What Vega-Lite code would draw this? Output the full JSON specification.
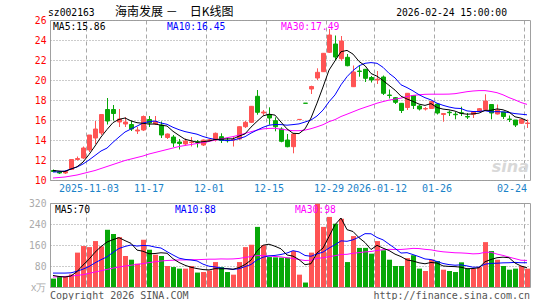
{
"$schema": "https://vega.github.io/schema/vega-lite/v6.json",
"padding": {"left": 28, "top": 5, "right": 10, "bottom": 0},
"background": "white",
"config": {
  "view": {"stroke": "#a0a0a0", "strokeWidth": 1},
  "axis": {"domain": false, "ticks": false, "labelFont": "DejaVu Sans Mono", "labelFontSize": 9.7, "gridWidth": 1, "labelOverlap": false}
},
"datasets": {"k": [
{"d":"2025-10-24","o":10.95,"h":11.05,"l":10.8,"c":10.85,"v":32,"m5":10.95,"m10":10.8,"m30":10.2,"vm5":44,"vm10":53,"vm30":38},
{"d":"2025-10-27","o":10.8,"h":10.85,"l":10.6,"c":10.7,"v":41,"m5":10.9,"m10":10.82,"m30":10.25,"vm5":40,"vm10":53,"vm30":39},
{"d":"2025-10-28","o":10.7,"h":10.95,"l":10.6,"c":10.85,"v":41,"m5":10.85,"m10":10.9,"m30":10.3,"vm5":38,"vm10":53,"vm30":40},
{"d":"2025-10-29","o":11.05,"h":12.1,"l":11.0,"c":12.05,"v":48,"m5":11.1,"m10":11.1,"m30":10.4,"vm5":42,"vm10":54,"vm30":42},
{"d":"2025-10-30","o":12.05,"h":12.35,"l":11.95,"c":12.15,"v":131,"m5":11.32,"m10":11.3,"m30":10.5,"vm5":58.6,"vm10":60,"vm30":44},
{"d":"2025-10-31","o":12.2,"h":13.35,"l":12.1,"c":13.2,"v":156,"m5":11.79,"m10":11.6,"m30":10.65,"vm5":83.4,"vm10":68,"vm30":47},
{"d":"2025-11-03","o":13.0,"h":14.5,"l":12.8,"c":14.5,"v":152,"m5":12.55,"m10":12.0,"m30":10.8,"vm5":105.6,"vm10":78,"vm30":52},
{"d":"2025-11-04","o":14.2,"h":15.9,"l":13.6,"c":15.1,"v":175,"m5":13.4,"m10":12.45,"m30":10.95,"vm5":132.4,"vm10":92,"vm30":57},
{"d":"2025-11-05","o":14.7,"h":16.55,"l":14.5,"c":16.55,"v":155,"m5":14.3,"m10":12.9,"m30":11.15,"vm5":153.8,"vm10":104,"vm30":62},
{"d":"2025-11-06","o":17.05,"h":18.2,"l":15.55,"c":15.9,"v":218,"m5":15.05,"m10":13.19,"m30":11.35,"vm5":171.2,"vm10":114.9,"vm30":67},
{"d":"2025-11-07","o":17.05,"h":17.5,"l":15.95,"c":16.65,"v":202,"m5":15.74,"m10":13.77,"m30":11.55,"vm5":180.4,"vm10":131.9,"vm30":72},
{"d":"2025-11-10","o":15.8,"h":17.1,"l":15.3,"c":16.1,"v":190,"m5":16.06,"m10":14.3,"m30":11.75,"vm5":188,"vm10":146.8,"vm30":76},
{"d":"2025-11-11","o":15.6,"h":16.3,"l":15.3,"c":15.8,"v":118,"m5":16.2,"m10":14.8,"m30":11.95,"vm5":176.6,"vm10":154.5,"vm30":80},
{"d":"2025-11-12","o":15.55,"h":15.95,"l":14.9,"c":15.1,"v":104,"m5":15.91,"m10":15.1,"m30":12.1,"vm5":166.4,"vm10":160.1,"vm30":83},
{"d":"2025-11-13","o":14.9,"h":15.3,"l":14.6,"c":15.0,"v":89,"m5":15.73,"m10":15.39,"m30":12.25,"vm5":140.6,"vm10":155.9,"vm30":86},
{"d":"2025-11-14","o":15.0,"h":16.45,"l":14.9,"c":16.35,"v":180,"m5":15.67,"m10":15.7,"m30":12.4,"vm5":136.2,"vm10":158.3,"vm30":89},
{"d":"2025-11-17","o":16.05,"h":16.4,"l":15.3,"c":15.7,"v":142,"m5":15.59,"m10":15.83,"m30":12.6,"vm5":126.6,"vm10":157.3,"vm30":93},
{"d":"2025-11-18","o":15.6,"h":16.4,"l":15.5,"c":15.85,"v":123,"m5":15.6,"m10":15.9,"m30":12.75,"vm5":127.6,"vm10":152.1,"vm30":96},
{"d":"2025-11-19","o":15.5,"h":15.85,"l":14.2,"c":14.5,"v":118,"m5":15.48,"m10":15.7,"m30":12.9,"vm5":130.4,"vm10":148.4,"vm30":99},
{"d":"2025-11-20","o":14.25,"h":14.65,"l":14.1,"c":14.6,"v":80,"m5":15.4,"m10":15.57,"m30":13.05,"vm5":128.6,"vm10":134.6,"vm30":101},
{"d":"2025-11-21","o":14.3,"h":14.5,"l":13.3,"c":13.7,"v":76,"m5":14.87,"m10":15.27,"m30":13.2,"vm5":107.8,"vm10":122,"vm30":102},
{"d":"2025-11-24","o":13.8,"h":14.1,"l":13.05,"c":13.65,"v":70,"m5":14.46,"m10":15.03,"m30":13.35,"vm5":93.4,"vm10":110,"vm30":103},
{"d":"2025-11-25","o":13.6,"h":14.15,"l":13.45,"c":13.9,"v":70,"m5":14.07,"m10":14.84,"m30":13.45,"vm5":82.8,"vm10":105.2,"vm30":103},
{"d":"2025-11-26","o":13.75,"h":14.3,"l":13.35,"c":13.8,"v":80,"m5":13.93,"m10":14.71,"m30":13.55,"vm5":75.2,"vm10":102.8,"vm30":104},
{"d":"2025-11-27","o":13.82,"h":14.0,"l":13.25,"c":13.78,"v":55,"m5":13.77,"m10":14.58,"m30":13.65,"vm5":70.2,"vm10":99.4,"vm30":104},
{"d":"2025-11-28","o":13.5,"h":14.05,"l":13.4,"c":14.0,"v":57,"m5":13.83,"m10":14.35,"m30":13.75,"vm5":66.4,"vm10":87.1,"vm30":105},
{"d":"2025-12-01","o":13.95,"h":14.1,"l":13.85,"c":14.02,"v":63,"m5":13.9,"m10":14.18,"m30":13.85,"vm5":65,"vm10":79.2,"vm30":106},
{"d":"2025-12-02","o":14.0,"h":14.75,"l":13.85,"c":14.67,"v":95,"m5":14.05,"m10":14.06,"m30":14.0,"vm5":70,"vm10":76.4,"vm30":106},
{"d":"2025-12-03","o":14.33,"h":14.67,"l":13.7,"c":13.95,"v":76,"m5":14.08,"m10":14.0,"m30":14.1,"vm5":69.2,"vm10":72.2,"vm30":107},
{"d":"2025-12-04","o":13.97,"h":14.2,"l":13.75,"c":13.93,"v":57,"m5":14.11,"m10":13.94,"m30":14.23,"vm5":69.6,"vm10":69.9,"vm30":106.5},
{"d":"2025-12-05","o":14.0,"h":14.35,"l":13.35,"c":14.05,"v":47,"m5":14.12,"m10":13.98,"m30":14.34,"vm5":67.6,"vm10":67,"vm30":107},
{"d":"2025-12-08","o":14.1,"h":15.35,"l":14.0,"c":15.33,"v":95,"m5":14.39,"m10":14.14,"m30":14.49,"vm5":74,"vm10":69.5,"vm30":108.8},
{"d":"2025-12-09","o":15.33,"h":15.9,"l":15.2,"c":15.77,"v":152,"m5":14.61,"m10":14.33,"m30":14.66,"vm5":85.4,"vm10":77.7,"vm30":112.5},
{"d":"2025-12-10","o":15.77,"h":17.4,"l":15.7,"c":17.37,"v":161,"m5":15.29,"m10":14.69,"m30":14.83,"vm5":102.4,"vm10":85.8,"vm30":116.2},
{"d":"2025-12-11","o":18.37,"h":19.0,"l":16.53,"c":16.77,"v":229,"m5":15.86,"m10":14.99,"m30":14.99,"vm5":136.8,"vm10":103.2,"vm30":119.5},
{"d":"2025-12-12","o":16.7,"h":17.0,"l":16.5,"c":16.8,"v":159,"m5":16.41,"m10":15.27,"m30":15.11,"vm5":159.2,"vm10":113.4,"vm30":119.6},
{"d":"2025-12-15","o":16.53,"h":17.27,"l":15.53,"c":16.2,"v":114,"m5":16.58,"m10":15.48,"m30":15.16,"vm5":163,"vm10":118.5,"vm30":118.3},
{"d":"2025-12-16","o":15.93,"h":16.27,"l":14.87,"c":15.33,"v":113,"m5":16.49,"m10":15.55,"m30":15.17,"vm5":155.2,"vm10":120.3,"vm30":116.3},
{"d":"2025-12-17","o":15.1,"h":15.27,"l":13.77,"c":13.87,"v":112,"m5":15.79,"m10":15.54,"m30":15.08,"vm5":145.4,"vm10":123.9,"vm30":114.8},
{"d":"2025-12-18","o":14.0,"h":14.6,"l":13.27,"c":13.33,"v":112,"m5":15.11,"m10":15.48,"m30":15.0,"vm5":122,"vm10":129.4,"vm30":111.3},
{"d":"2025-12-19","o":13.33,"h":14.67,"l":12.67,"c":14.6,"v":137,"m5":14.67,"m10":15.54,"m30":14.93,"vm5":117.6,"vm10":138.4,"vm30":109.1},
{"d":"2025-12-22","o":16.05,"h":16.06,"l":16.05,"c":16.06,"v":47,"m5":14.64,"m10":15.61,"m30":14.93,"vm5":104.2,"vm10":133.6,"vm30":104.4},
{"d":"2025-12-23","o":17.68,"h":17.68,"l":17.67,"c":17.67,"v":17,"m5":15.11,"m10":15.8,"m30":14.99,"vm5":85,"vm10":120.1,"vm30":101},
{"d":"2025-12-24","o":19.1,"h":19.43,"l":18.6,"c":19.35,"v":131,"m5":16.2,"m10":16.0,"m30":15.13,"vm5":88.8,"vm10":117.1,"vm30":101.9},
{"d":"2025-12-25","o":20.2,"h":21.17,"l":20.0,"c":20.77,"v":317,"m5":17.69,"m10":16.4,"m30":15.32,"vm5":129.8,"vm10":125.9,"vm30":109.5},
{"d":"2025-12-26","o":20.83,"h":22.7,"l":20.8,"c":22.67,"v":229,"m5":19.3,"m10":16.99,"m30":15.53,"vm5":148.2,"vm10":132.9,"vm30":111.1},
{"d":"2025-12-29","o":22.77,"h":25.1,"l":22.7,"c":24.5,"v":267,"m5":20.99,"m10":17.82,"m30":15.83,"vm5":192.2,"vm10":148.2,"vm30":115.3},
{"d":"2025-12-30","o":23.6,"h":24.45,"l":21.95,"c":22.3,"v":241,"m5":21.92,"m10":18.51,"m30":16.04,"vm5":237,"vm10":161,"vm30":119.2},
{"d":"2025-12-31","o":22.13,"h":24.4,"l":21.9,"c":23.9,"v":260,"m5":22.83,"m10":19.52,"m30":16.35,"vm5":262.8,"vm10":175.8,"vm30":124},
{"d":"2026-01-05","o":22.27,"h":22.6,"l":21.37,"c":21.43,"v":95,"m5":22.96,"m10":20.33,"m30":16.58,"vm5":218.4,"vm10":174.1,"vm30":124.5},
{"d":"2026-01-06","o":19.33,"h":21.45,"l":19.3,"c":20.8,"v":194,"m5":22.59,"m10":20.95,"m30":16.82,"vm5":211.4,"vm10":179.8,"vm30":128.4},
{"d":"2026-01-07","o":20.9,"h":21.5,"l":20.33,"c":20.85,"v":149,"m5":21.86,"m10":21.42,"m30":17.06,"vm5":187.8,"vm10":190,"vm30":131},
{"d":"2026-01-08","o":21.07,"h":21.1,"l":19.8,"c":20.17,"v":149,"m5":21.43,"m10":21.67,"m30":17.27,"vm5":169.4,"vm10":203.2,"vm30":133.7},
{"d":"2026-01-09","o":20.25,"h":20.4,"l":19.75,"c":20.0,"v":127,"m5":20.65,"m10":21.74,"m30":17.47,"vm5":142.8,"vm10":202.8,"vm30":135.2},
{"d":"2026-01-12","o":20.0,"h":20.9,"l":19.6,"c":20.08,"v":175,"m5":20.38,"m10":21.67,"m30":17.68,"vm5":158.8,"vm10":188.6,"vm30":139.2},
{"d":"2026-01-13","o":20.3,"h":20.45,"l":18.5,"c":18.67,"v":140,"m5":19.95,"m10":21.27,"m30":17.84,"vm5":148,"vm10":179.7,"vm30":142},
{"d":"2026-01-14","o":18.5,"h":19.05,"l":18.15,"c":18.45,"v":104,"m5":19.47,"m10":20.67,"m30":17.99,"vm5":139,"vm10":163.4,"vm30":143.4},
{"d":"2026-01-15","o":18.23,"h":18.3,"l":17.6,"c":17.77,"v":80,"m5":18.99,"m10":20.21,"m30":18.09,"vm5":125.2,"vm10":147.3,"vm30":142.9},
{"d":"2026-01-16","o":17.67,"h":17.7,"l":16.7,"c":16.95,"v":80,"m5":18.38,"m10":19.52,"m30":18.19,"vm5":115.8,"vm10":129.3,"vm30":143},
{"d":"2026-01-19","o":17.25,"h":18.67,"l":17.0,"c":18.67,"v":110,"m5":18.1,"m10":19.24,"m30":18.35,"vm5":102.8,"vm10":130.8,"vm30":144.8},
{"d":"2026-01-20","o":18.45,"h":18.5,"l":17.1,"c":17.45,"v":121,"m5":17.86,"m10":18.91,"m30":18.46,"vm5":99,"vm10":123.5,"vm30":147.2},
{"d":"2026-01-21","o":17.4,"h":17.5,"l":16.95,"c":17.1,"v":70,"m5":17.59,"m10":18.53,"m30":18.52,"vm5":92.2,"vm10":115.6,"vm30":146.4},
{"d":"2026-01-22","o":17.1,"h":17.3,"l":16.95,"c":17.15,"v":61,"m5":17.46,"m10":18.23,"m30":18.57,"vm5":88.4,"vm10":106.8,"vm30":143.4},
{"d":"2026-01-23","o":17.15,"h":17.85,"l":17.1,"c":17.85,"v":105,"m5":17.64,"m10":18.01,"m30":18.58,"vm5":93.4,"vm10":104.6,"vm30":141.5},
{"d":"2026-01-26","o":17.6,"h":17.65,"l":16.55,"c":16.7,"v":99,"m5":17.25,"m10":17.68,"m30":18.58,"vm5":91.2,"vm10":97,"vm30":137.2},
{"d":"2026-01-27","o":16.55,"h":16.7,"l":15.83,"c":16.65,"v":66,"m5":17.09,"m10":17.47,"m30":18.58,"vm5":80.2,"vm10":89.6,"vm30":134.1},
{"d":"2026-01-28","o":16.78,"h":16.95,"l":16.4,"c":16.73,"v":61,"m5":17.02,"m10":17.3,"m30":18.59,"vm5":78.4,"vm10":85.3,"vm30":132.3},
{"d":"2026-01-29","o":16.58,"h":16.8,"l":16.07,"c":16.53,"v":57,"m5":16.89,"m10":17.18,"m30":18.63,"vm5":77.6,"vm10":83,"vm30":130.4},
{"d":"2026-01-30","o":16.72,"h":17.33,"l":16.4,"c":16.67,"v":94,"m5":16.66,"m10":17.15,"m30":18.73,"vm5":75.4,"vm10":84.4,"vm30":129.8},
{"d":"2026-02-02","o":16.35,"h":16.7,"l":16.1,"c":16.3,"v":70,"m5":16.58,"m10":16.91,"m30":18.83,"vm5":69.6,"vm10":80.4,"vm30":128.4},
{"d":"2026-02-03","o":16.57,"h":16.8,"l":16.2,"c":16.8,"v":70,"m5":16.61,"m10":16.85,"m30":18.9,"vm5":70.4,"vm10":75.3,"vm30":126.2},
{"d":"2026-02-04","o":16.85,"h":17.2,"l":16.85,"c":17.13,"v":76,"m5":16.69,"m10":16.85,"m30":18.94,"vm5":73.4,"vm10":75.9,"vm30":127.2},
{"d":"2026-02-05","o":17.05,"h":18.57,"l":17.0,"c":17.9,"v":171,"m5":16.96,"m10":16.93,"m30":18.94,"vm5":96.2,"vm10":86.9,"vm30":132.3},
{"d":"2026-02-06","o":17.55,"h":17.57,"l":16.07,"c":16.7,"v":137,"m5":16.97,"m10":16.81,"m30":18.85,"vm5":104.8,"vm10":90.1,"vm30":132.5},
{"d":"2026-02-09","o":16.6,"h":17.55,"l":16.55,"c":17.0,"v":104,"m5":17.11,"m10":16.84,"m30":18.73,"vm5":111.6,"vm10":90.6,"vm30":125.4},
{"d":"2026-02-10","o":16.8,"h":16.8,"l":16.1,"c":16.35,"v":80,"m5":17.02,"m10":16.81,"m30":18.52,"vm5":113.6,"vm10":92,"vm30":120.4},
{"d":"2026-02-11","o":16.1,"h":16.45,"l":15.8,"c":16.05,"v":66,"m5":16.8,"m10":16.74,"m30":18.24,"vm5":111.6,"vm10":92.5,"vm30":113.7},
{"d":"2026-02-12","o":16.0,"h":16.0,"l":15.3,"c":15.5,"v":70,"m5":16.32,"m10":16.64,"m30":18.01,"vm5":91.4,"vm10":93.8,"vm30":108},
{"d":"2026-02-13","o":15.67,"h":16.07,"l":15.6,"c":16.05,"v":80,"m5":16.19,"m10":16.58,"m30":17.75,"vm5":80,"vm10":92.4,"vm30":102},
{"d":"2026-02-24","o":15.65,"h":16.05,"l":15.2,"c":15.7,"v":70,"m5":15.93,"m10":16.52,"m30":17.56,"vm5":73.2,"vm10":92.4,"vm30":101.2}
]},
"spacing": 23,
"bounds": "flush",
"vconcat": [
{
  "width": 480, "height": 160,
  "data": {"name": "k"},
  "encoding": {
    "x": {"field": "d", "type": "ordinal", "scale": {"paddingInner": 0, "paddingOuter": 0},
      "axis": {"title": null, "values": ["2025-11-03","2025-11-17","2025-12-01","2025-12-15","2025-12-29","2026-01-12","2026-01-26","2026-02-24"],
        "bandPosition": 0, "labelAngle": 0, "labelColor": "#1a82c8", "labelFontSize": 10, "labelPadding": 3,
        "labelOverlap": false, "labelBound": false,
        "labelExpr": "datum.value == '2025-11-03' || datum.value == '2026-01-12' ? datum.value : substring(datum.value, 5)",
        "labelAlign": {"condition": {"test": "datum.value == '2026-02-24'", "value": "right"}, "value": "center"},
        "grid": true, "gridDash": [4, 3], "gridColor": "#a8a8a8"}}
  },
  "layer": [
    {"mark": {"type": "rule", "xOffset": 0.5, "strokeWidth": 1},
     "encoding": {
       "y": {"field": "l", "type": "quantitative", "scale": {"domain": [10, 26], "nice": false, "zero": false},
         "axis": {"title": null, "values": [10,12,14,16,18,20,22,24,26], "tickCount": 20, "grid": true, "gridDash": [1, 2], "gridColor": "#999999",
           "labelColor": "#ff0000", "labelPadding": 4, "labelFlush": false, "labelOverlap": false}},
       "y2": {"field": "h"},
       "color": {"condition": {"test": "datum.c >= datum.o", "value": "#ff5454"}, "value": "#08a808"}}},
    {"mark": {"type": "bar", "size": 4, "xOffset": 0.5, "strokeWidth": 1},
     "encoding": {
       "y": {"field": "o", "type": "quantitative"},
       "y2": {"field": "c"},
       "color": {"condition": {"test": "datum.c >= datum.o", "value": "#ff5454"}, "value": "#08a808"},
       "stroke": {"condition": {"test": "datum.c >= datum.o", "value": "#ff5454"}, "value": "#08a808"}}},
    {"mark": {"type": "line", "color": "#ff00ff", "strokeWidth": 1}, "encoding": {"y": {"field": "m30", "type": "quantitative"}}},
    {"mark": {"type": "line", "color": "#0000ff", "strokeWidth": 1}, "encoding": {"y": {"field": "m10", "type": "quantitative"}}},
    {"mark": {"type": "line", "color": "#000000", "strokeWidth": 1}, "encoding": {"y": {"field": "m5", "type": "quantitative"}}},
    {"data": {"values": [
       {"d": "2025-10-24", "v": 26, "t": "MA5:15.86", "s": "MA5"},
       {"d": "2025-11-20", "v": 26, "t": "MA10:16.45", "s": "MA10"},
       {"d": "2025-12-17", "v": 26, "t": "MA30:17.49", "s": "MA30"}]},
     "mark": {"type": "text", "align": "left", "baseline": "top", "dy": 1.5, "dx": 0, "font": "DejaVu Sans Mono", "fontSize": 9.7},
     "encoding": {"y": {"field": "v", "type": "quantitative"}, "text": {"field": "t"},
       "color": {"field": "s", "type": "nominal", "scale": {"domain": ["MA5","MA10","MA30"], "range": ["#000000","#0000ff","#ff00ff"]}, "legend": null}}},
    {"data": {"values": [{"d": "2025-10-24", "v": 26, "t": "sz002163"}]},
     "mark": {"type": "text", "align": "left", "baseline": "middle", "dy": -7, "dx": -5, "font": "DejaVu Sans Mono", "fontSize": 9.7, "color": "#000000"},
     "encoding": {"y": {"field": "v", "type": "quantitative"}, "text": {"field": "t"}}},
    {"data": {"values": [{"d": "2025-11-07", "v": 26, "t": "海南发展 －　日K线图"}]},
     "mark": {"type": "text", "align": "left", "baseline": "middle", "dy": -8, "dx": 2, "font": "Noto Sans CJK SC", "fontSize": 12, "color": "#000000"},
     "encoding": {"y": {"field": "v", "type": "quantitative"}, "text": {"field": "t"}}},
    {"data": {"values": [{"d": "2026-02-10", "v": 26, "t": "2026-02-24 15:00:00"}]},
     "mark": {"type": "text", "align": "right", "baseline": "middle", "dy": -7, "dx": 4, "font": "DejaVu Sans Mono", "fontSize": 9.7, "color": "#000000"},
     "encoding": {"y": {"field": "v", "type": "quantitative"}, "text": {"field": "t"}}},
    {"data": {"values": [{"d": "2026-02-24", "v": 10.5, "t": "sina"}]},
     "mark": {"type": "text", "align": "right", "baseline": "bottom", "dx": 2, "font": "DejaVu Sans", "fontSize": 16, "fontStyle": "italic", "fontWeight": "bold", "color": "#d8d8d8"},
     "encoding": {"y": {"field": "v", "type": "quantitative"}, "text": {"field": "t"}}}
  ]
},
{
  "width": 480, "height": 84,
  "data": {"name": "k"},
  "encoding": {
    "x": {"field": "d", "type": "ordinal", "scale": {"paddingInner": 0, "paddingOuter": 0},
      "axis": {"title": null, "labels": false, "values": ["2025-11-03","2025-11-17","2025-12-01","2025-12-15","2025-12-29","2026-01-12","2026-01-26","2026-02-24"],
        "bandPosition": 0, "grid": true, "gridDash": [4, 3], "gridColor": "#a8a8a8"}}
  },
  "layer": [
    {"mark": {"type": "bar", "size": 5, "xOffset": 0.5},
     "encoding": {
       "y": {"field": "v", "type": "quantitative", "scale": {"domain": [0, 320], "nice": false},
         "axis": {"title": null, "values": [0, 80, 160, 240, 320], "tickCount": 20, "grid": true, "gridDash": [1, 2], "gridColor": "#999999",
           "labelColor": "#aaaaaa", "labelPadding": 4, "labelFlush": false, "labelOverlap": false,
           "labelExpr": "datum.value == 0 ? 'x万' : datum.label"}},
       "color": {"condition": {"test": "datum.c >= datum.o", "value": "#ff5454"}, "value": "#08a808"}}},
    {"mark": {"type": "line", "color": "#ff00ff", "strokeWidth": 1}, "encoding": {"y": {"field": "vm30", "type": "quantitative"}}},
    {"mark": {"type": "line", "color": "#0000ff", "strokeWidth": 1}, "encoding": {"y": {"field": "vm10", "type": "quantitative"}}},
    {"mark": {"type": "line", "color": "#000000", "strokeWidth": 1}, "encoding": {"y": {"field": "vm5", "type": "quantitative"}}},
    {"data": {"values": [
       {"d": "2025-10-24", "v": 320, "t": "MA5:70", "s": "MA5"},
       {"d": "2025-11-21", "v": 320, "t": "MA10:88", "s": "MA10"},
       {"d": "2025-12-19", "v": 320, "t": "MA30:98", "s": "MA30"}]},
     "mark": {"type": "text", "align": "left", "baseline": "top", "dy": 2, "dx": 2, "font": "DejaVu Sans Mono", "fontSize": 9.7},
     "encoding": {"y": {"field": "v", "type": "quantitative"}, "text": {"field": "t"},
       "color": {"field": "s", "type": "nominal", "scale": {"domain": ["MA5","MA10","MA30"], "range": ["#000000","#0000ff","#ff00ff"]}, "legend": null}}},
    {"data": {"values": [{"d": "2025-10-24", "v": 0, "t": "Copyright 2026 SINA.COM"}]},
     "mark": {"type": "text", "align": "left", "baseline": "top", "dy": 3.5, "dx": -3, "font": "DejaVu Sans Mono", "fontSize": 10, "color": "#555555"},
     "encoding": {"y": {"field": "v", "type": "quantitative"}, "text": {"field": "t"}}},
    {"data": {"values": [{"d": "2026-02-24", "v": 0, "t": "http://finance.sina.com.cn"}]},
     "mark": {"type": "text", "align": "right", "baseline": "top", "dy": 3.5, "dx": 3, "font": "DejaVu Sans Mono", "fontSize": 10, "color": "#555555"},
     "encoding": {"y": {"field": "v", "type": "quantitative"}, "text": {"field": "t"}}}
  ]
}
]
}
